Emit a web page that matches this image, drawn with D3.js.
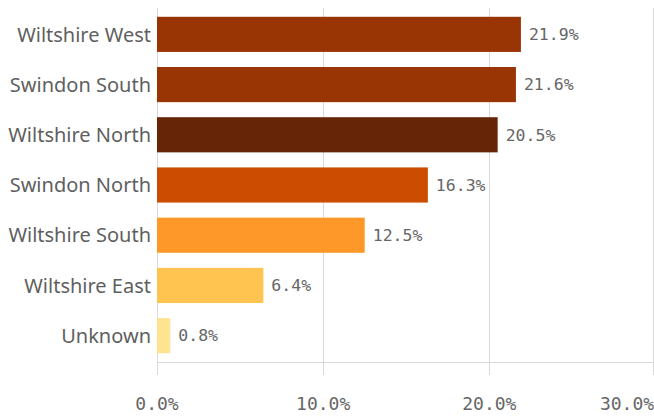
<!DOCTYPE html>
<html><head><meta charset="utf-8">
<script src="https://cdn.jsdelivr.net/npm/d3@7"></script>
<style>body{margin:0;background:#fff;}</style>
</head><body>
<svg id="chart" width="654" height="417"></svg>
<script>
const categories = ["Wiltshire West","Swindon South","Wiltshire North","Swindon North","Wiltshire South","Wiltshire East","Unknown"];
const values = [21.9, 21.6, 20.5, 16.3, 12.5, 6.4, 0.8];
const colors = ["#993404","#993404","#662506","#cc4c02","#fe9929","#fec44f","#fee391"];
const tickValues = [0, 10, 20, 30];

const W = 654;
const svg = d3.select("#chart");
const x = d3.scaleLinear().domain([0, 30]).range([157, 655.5]);
const y = d3.scaleBand().domain(categories).range([8, 362]).paddingInner(0.3).paddingOuter(0.175);

// gridlines
svg.append("g").selectAll("line").data(tickValues).join("line")
  .attr("x1", d => Math.min(Math.round(x(d)), W - 1) + 0.5)
  .attr("x2", d => Math.min(Math.round(x(d)), W - 1) + 0.5)
  .attr("y1", 8).attr("y2", 375)
  .attr("stroke", "#d9d9d9").attr("stroke-width", 1);
// axis baseline
svg.append("line").attr("x1", 157).attr("x2", W).attr("y1", 362.5).attr("y2", 362.5)
  .attr("stroke", "#d9d9d9");

// bars
svg.append("g").selectAll("rect").data(categories).join("rect")
  .attr("x", x(0)).attr("y", d => y(d))
  .attr("width", (d, i) => x(values[i]) - x(0))
  .attr("height", y.bandwidth())
  .attr("fill", (d, i) => colors[i]);

// value labels
svg.append("g").selectAll("text").data(categories).join("text")
  .attr("x", (d, i) => x(values[i]) + 8)
  .attr("y", d => y(d) + y.bandwidth() / 2)
  .attr("dy", "0.35em")
  .attr("font-family", "DejaVu Sans Mono").attr("font-size", 16.5)
  .attr("fill", "#666")
  .text((d, i) => values[i].toFixed(1) + "%");

// category labels
svg.append("g").selectAll("text").data(categories).join("text")
  .attr("x", 151).attr("y", d => y(d) + y.bandwidth() / 2)
  .attr("dy", "0.36em").attr("text-anchor", "end")
  .attr("font-family", "Noto Sans").attr("font-size", 20)
  .attr("fill", "#5f5f5f")
  .text(d => d);

// x tick labels
svg.append("g").selectAll("text").data(tickValues).join("text")
  .attr("x", d => Math.min(x(d), W - 27)).attr("y", 404)
  .attr("dy", "0.35em").attr("text-anchor", "middle")
  .attr("font-family", "DejaVu Sans Mono").attr("font-size", 18)
  .attr("fill", "#666")
  .text(d => d.toFixed(1) + "%");
</script>
</body></html>
